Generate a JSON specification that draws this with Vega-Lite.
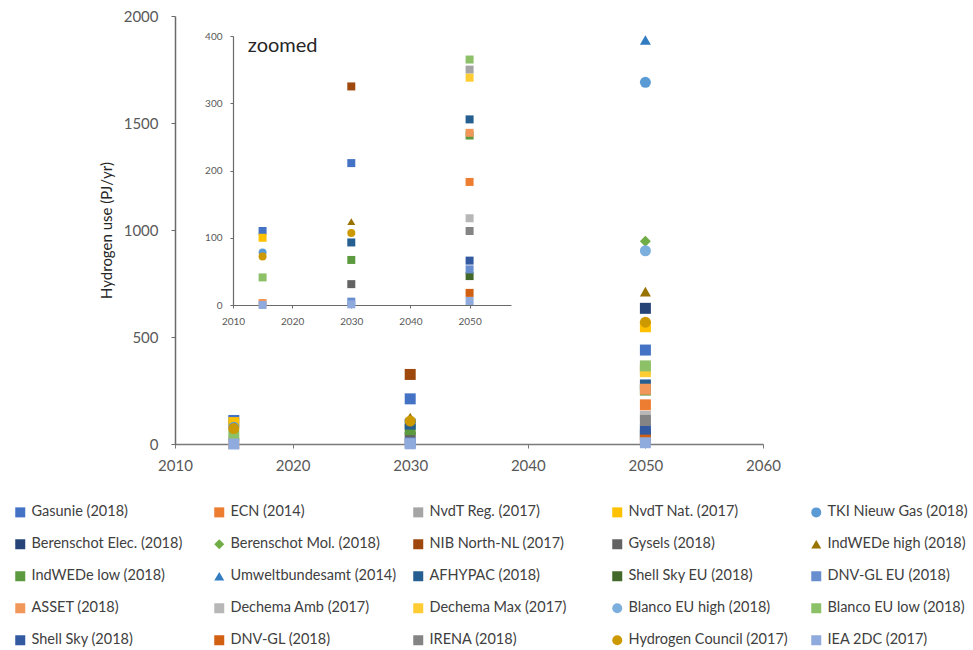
{
  "$schema": "https://vega.github.io/schema/vega-lite/v6.json",
  "width": 588,
  "height": 428,
  "autosize": {"type": "none"},
  "padding": {"left": 175, "top": 16, "right": 210, "bottom": 206},
  "background": "white",
  "config": {"view": {"stroke": null}, "font": "Lato"},
  "datasets": {
    "h2": [
      {"series": "Gasunie (2018)", "year": 2015, "value": 110},
      {"series": "Gasunie (2018)", "year": 2030, "value": 211},
      {"series": "Gasunie (2018)", "year": 2050, "value": 439},
      {"series": "ECN (2014)", "year": 2050, "value": 183},
      {"series": "NvdT Reg. (2017)", "year": 2050, "value": 350},
      {"series": "NvdT Nat. (2017)", "year": 2015, "value": 100},
      {"series": "NvdT Nat. (2017)", "year": 2050, "value": 548},
      {"series": "TKI Nieuw Gas (2018)", "year": 2015, "value": 78},
      {"series": "TKI Nieuw Gas (2018)", "year": 2050, "value": 1690},
      {"series": "Berenschot Elec. (2018)", "year": 2050, "value": 634},
      {"series": "Berenschot Mol. (2018)", "year": 2050, "value": 948},
      {"series": "NIB North-NL (2017)", "year": 2030, "value": 325},
      {"series": "Gysels (2018)", "year": 2030, "value": 31},
      {"series": "IndWEDe high (2018)", "year": 2030, "value": 124},
      {"series": "IndWEDe high (2018)", "year": 2050, "value": 712},
      {"series": "IndWEDe low (2018)", "year": 2030, "value": 67},
      {"series": "IndWEDe low (2018)", "year": 2050, "value": 252},
      {"series": "Umweltbundesamt (2014)", "year": 2050, "value": 1888},
      {"series": "AFHYPAC (2018)", "year": 2030, "value": 93},
      {"series": "AFHYPAC (2018)", "year": 2050, "value": 276},
      {"series": "Shell Sky EU (2018)", "year": 2050, "value": 43},
      {"series": "DNV-GL EU (2018)", "year": 2030, "value": 5},
      {"series": "DNV-GL EU (2018)", "year": 2050, "value": 53},
      {"series": "ASSET (2018)", "year": 2015, "value": 3},
      {"series": "ASSET (2018)", "year": 2050, "value": 256},
      {"series": "Dechema Amb (2017)", "year": 2050, "value": 129},
      {"series": "Dechema Max (2017)", "year": 2050, "value": 338},
      {"series": "Blanco EU high (2018)", "year": 2050, "value": 903},
      {"series": "Blanco EU low (2018)", "year": 2015, "value": 41},
      {"series": "Blanco EU low (2018)", "year": 2050, "value": 365},
      {"series": "Shell Sky (2018)", "year": 2050, "value": 66},
      {"series": "DNV-GL (2018)", "year": 2050, "value": 18},
      {"series": "IRENA (2018)", "year": 2050, "value": 110},
      {"series": "Hydrogen Council (2017)", "year": 2015, "value": 72},
      {"series": "Hydrogen Council (2017)", "year": 2030, "value": 107},
      {"series": "Hydrogen Council (2017)", "year": 2050, "value": 569},
      {"series": "IEA 2DC (2017)", "year": 2015, "value": 0},
      {"series": "IEA 2DC (2017)", "year": 2030, "value": 1},
      {"series": "IEA 2DC (2017)", "year": 2050, "value": 6}
    ]
  },
  "data": {"name": "h2"},
  "layer": [
    {
      "mark": {"type": "point", "filled": true, "opacity": 1, "size": 121},
      "encoding": {
        "x": {
          "field": "year", "type": "quantitative",
          "scale": {"domain": [2010, 2060], "nice": false, "zero": false},
          "axis": {"orient": "bottom", "title": null, "values": [2010, 2020, 2030, 2040, 2050, 2060], "format": "d", "grid": false,
                   "domainColor": "#7a7a7a", "domainWidth": 1.5, "tickColor": "#7a7a7a", "tickSize": 4,
                   "labelFontSize": 15, "labelColor": "#595959", "labelPadding": 10, "labelFlush": false}
        },
        "y": {
          "field": "value", "type": "quantitative",
          "scale": {"domain": [0, 2000], "nice": false},
          "axis": {"orient": "left", "title": "Hydrogen use (PJ/yr)", "values": [0, 500, 1000, 1500, 2000], "format": "d", "grid": false,
                   "domainColor": "#6a6a6a", "domainWidth": 1.5, "tickColor": "#6a6a6a", "tickSize": 4,
                   "labelFontSize": 15, "labelColor": "#595959", "labelPadding": 13,
                   "titleFontSize": 15, "titleFontWeight": "normal", "titleColor": "#262626", "titlePadding": 9}
        },
        "color": {
          "field": "series", "type": "nominal",
          "scale": {
            "domain": ["Gasunie (2018)", "ECN (2014)", "NvdT Reg. (2017)", "NvdT Nat. (2017)", "TKI Nieuw Gas (2018)", "Berenschot Elec. (2018)", "Berenschot Mol. (2018)", "NIB North-NL (2017)", "Gysels (2018)", "IndWEDe high (2018)", "IndWEDe low (2018)", "Umweltbundesamt (2014)", "AFHYPAC (2018)", "Shell Sky EU (2018)", "DNV-GL EU (2018)", "ASSET (2018)", "Dechema Amb (2017)", "Dechema Max (2017)", "Blanco EU high (2018)", "Blanco EU low (2018)", "Shell Sky (2018)", "DNV-GL (2018)", "IRENA (2018)", "Hydrogen Council (2017)", "IEA 2DC (2017)"],
            "range": ["#4472C4", "#ED7D31", "#A5A5A5", "#FFC000", "#5B9BD5", "#264478", "#70AD47", "#9E480E", "#636363", "#997300", "#5B9A3E", "#327DC2", "#255E91", "#43682B", "#698ED0", "#F1975A", "#B7B7B7", "#FFCD33", "#7CAFDD", "#8CC168", "#335AA1", "#D26012", "#848484", "#CC9A00", "#8FAADC"]
          },
          "legend": {"orient": "none", "legendX": -162, "legendY": 489, "columns": 5, "direction": "horizontal", "title": null,
                     "gridAlign": "all", "columnPadding": 14, "rowPadding": 17, "symbolSize": 100, "labelFontSize": 14.5, "labelLimit": 300,
                     "labelColor": "#404040", "padding": 0, "symbolStrokeWidth": 0, "labelOffset": 4}
        },
        "shape": {
          "field": "series", "type": "nominal",
          "scale": {
            "domain": ["Gasunie (2018)", "ECN (2014)", "NvdT Reg. (2017)", "NvdT Nat. (2017)", "TKI Nieuw Gas (2018)", "Berenschot Elec. (2018)", "Berenschot Mol. (2018)", "NIB North-NL (2017)", "Gysels (2018)", "IndWEDe high (2018)", "IndWEDe low (2018)", "Umweltbundesamt (2014)", "AFHYPAC (2018)", "Shell Sky EU (2018)", "DNV-GL EU (2018)", "ASSET (2018)", "Dechema Amb (2017)", "Dechema Max (2017)", "Blanco EU high (2018)", "Blanco EU low (2018)", "Shell Sky (2018)", "DNV-GL (2018)", "IRENA (2018)", "Hydrogen Council (2017)", "IEA 2DC (2017)"],
            "range": ["square", "square", "square", "square", "circle", "square", "diamond", "square", "square", "triangle-up", "square", "triangle-up", "square", "square", "square", "square", "square", "square", "circle", "square", "square", "square", "square", "circle", "square"]
          }
        }
      }
    },
    {
      "layer": [
        {
          "transform": [{"filter": "datum.value <= 400"}],
          "mark": {"type": "point", "filled": true, "opacity": 1, "size": 64},
          "encoding": {
            "x": {
              "field": "year", "type": "quantitative",
              "scale": {"domain": [2010, 2057], "range": [58, 336], "nice": false, "zero": false},
              "axis": {"orient": "bottom", "offset": -139, "title": null, "values": [2010, 2020, 2030, 2040, 2050], "format": "d", "grid": false,
                       "domainColor": "#6a6a6a", "domainWidth": 1.2, "tickColor": "#6a6a6a", "tickSize": 3,
                       "labelFontSize": 10, "labelColor": "#595959", "labelPadding": 8, "labelFlush": false}
            },
            "y": {
              "field": "value", "type": "quantitative",
              "scale": {"domain": [0, 400], "range": [289, 20], "nice": false},
              "axis": {"orient": "left", "offset": -58, "title": null, "values": [0, 100, 200, 300, 400], "grid": false,
                       "domainColor": "#6a6a6a", "domainWidth": 1.2, "tickColor": "#6a6a6a", "tickSize": 3,
                       "labelFontSize": 10, "labelColor": "#595959", "labelPadding": 8}
            },
            "color": {"field": "series", "type": "nominal"},
            "shape": {"field": "series", "type": "nominal"}
          }
        },
        {
          "data": {"values": [{"label": "zoomed", "year": 2012.5, "value": 385}]},
          "mark": {"type": "text", "align": "left", "baseline": "middle", "fontSize": 20, "color": "#262626"},
          "encoding": {
            "x": {"field": "year", "type": "quantitative"},
            "y": {"field": "value", "type": "quantitative"},
            "text": {"field": "label"}
          }
        }
      ]
    }
  ],
  "resolve": {"scale": {"x": "independent", "y": "independent"}, "axis": {"x": "independent", "y": "independent"}}
}
